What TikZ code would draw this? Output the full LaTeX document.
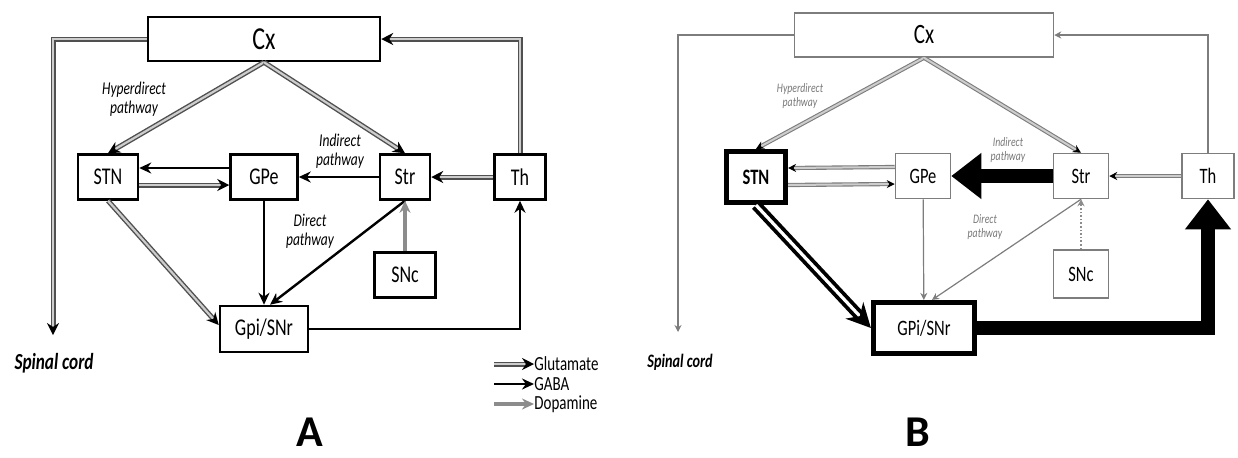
\documentclass[tikz,border=0pt]{standalone}
\usepackage{fontspec}
\setmainfont{Carlito}[FakeStretch=0.75]
\newfontfamily\letterfont{Carlito}
\usetikzlibrary{arrows.meta,positioning,calc}
\definecolor{GluGray}{RGB}{80,80,80}
\definecolor{GluFill}{RGB}{205,205,205}
\definecolor{DopGray}{RGB}{140,140,140}
\definecolor{ThinGray}{RGB}{125,125,125}
\definecolor{LabelGray}{RGB}{120,120,120}
\tikzset{
  box a/.style={
    draw,
    line width=1.25pt,
    inner sep=0pt,
    minimum height=22.5pt,
    fill=white,
    font=\fontsize{12}{12}\selectfont,
  },
  box b/.style={
    box a,
    draw=ThinGray,
    line width=0.75pt,
    font=\fontsize{11}{11}\selectfont,
  },
  box b heavy/.style={
    box b,
    draw=black,
    line width=2.6pt,
  },
  glu/.style={draw=GluGray, double=GluFill, double distance=1.1pt, line width=0.7pt,
    -{Stealth[black,length=6pt,width=6pt]}},
  gaba/.style={draw=black, line width=1.2pt, -{Stealth[length=6pt,width=5.5pt]}},
  dopa/.style={draw=DopGray, line width=1.6pt, -{Stealth[length=6pt,width=5.5pt]}},
  glu b/.style={draw=ThinGray, double=GluFill, double distance=1pt, line width=0.55pt,
    -{Stealth[black,length=4pt,width=4pt]}},
  glu heavy/.style={draw=black, double=white, double distance=1.6pt, line width=1.9pt,
    -{Stealth[black,length=12pt,width=12pt]}},
  gaba heavy/.style={draw=black, line width=7pt, -{Triangle[length=15pt,width=22pt]}},
  thin b/.style={draw=ThinGray, line width=0.6pt, -{Stealth[length=3.5pt,width=3.5pt]}},
  dopa b/.style={draw=DopGray, line width=0.8pt, densely dotted, -{Stealth[length=3.5pt,width=3.5pt]}},
  path label/.style={align=center, font=\itshape\fontsize{9}{9.5}\selectfont},
  path label b/.style={align=center, text=LabelGray, font=\itshape\fontsize{6.5}{7}\selectfont},
  legend text/.style={anchor=west, inner sep=0pt, font=\fontsize{10}{10}\selectfont},
  panel letter/.style={inner sep=0pt, anchor=base, font=\letterfont\bfseries\fontsize{22}{22}\selectfont},
}

\begin{document}
\begin{tikzpicture}[x=0.5pt,y=-0.5pt]
\useasboundingbox (0,0) rectangle (1238,457);

% Panel A: nuclei
\node[box a, minimum width=116pt, minimum height=22pt, font=\fontsize{16}{16}\selectfont] (cxA) at (264,39) {Cx};
\node[box a, minimum width=30pt] (stnA) at (108,177) {STN};
\node[box a, minimum width=33.5pt] (gpeA) at (264,177) {GPe};
\node[box a, minimum width=25pt] (strA) at (405,177) {Str};
\node[box a, minimum width=25.5pt] (thA) at (520,177) {Th};
\node[box a, minimum width=30.5pt] (sncA) at (405,275) {SNc};
\node[box a, minimum width=44pt, minimum height=23pt] (gpiA) at (264,329) {Gpi/SNr};
\coordinate (spinalA) at (53,335);

% Panel A: projections
\draw[glu] (cxA.south) -- (stnA.north);
\draw[glu] (cxA.south) -- (strA.north);
\draw[glu] (cxA) -| (spinalA);
\draw[glu] (thA) |- (cxA);
\draw[glu] (thA) -- (strA);
\draw[gaba] ([yshift=4.5pt]gpeA.west) -- ([yshift=4.5pt]stnA.east);
\draw[glu] ([yshift=-4pt]stnA.east) -- ([yshift=-4pt]gpeA.west);
\draw[gaba] (strA) -- (gpeA);
\draw[glu] (stnA.south) -- ([yshift=2pt]gpiA.west);
\draw[gaba] (gpeA) -- (gpiA);
\draw[gaba] (strA.south) -- ([xshift=3pt]gpiA.north);
\draw[dopa] (sncA) -- (strA);
\draw[gaba] (gpiA) -| (thA);

\node[path label] (hyperA) at (134,99) {Hyperdirect\\pathway};
\node[path label] (indirA) at (340,151) {Indirect\\pathway};
\node[path label] (dirA) at (310,231) {Direct\\pathway};
\node[font=\bfseries\itshape\fontsize{11.5}{11.5}\selectfont] (spinaltxtA) at (54,363) {Spinal cord};

% Legend
\node[legend text] (gluT) at (534,364) {Glutamate};
\node[legend text] (gabaT) at (534,384) {GABA};
\node[legend text] (dopaT) at (534,404) {Dopamine};
\coordinate (gluS) at (494,364);
\coordinate (gabaS) at (494,384);
\coordinate (dopaS) at (494,404);
\draw[glu] (gluS) -- (gluT.west);
\draw[gaba] (gabaS) -- (gabaT.west);
\draw[dopa] (dopaS) -- (dopaT.west);

\node[panel letter] (letA) at (310,446) {A};

% Panel B: nuclei
\node[box b, minimum width=129.5pt, minimum height=22pt, font=\fontsize{14}{14}\selectfont] (cxB) at (924,35) {Cx};
\node[box b heavy, minimum width=29.5pt, minimum height=25.5pt, font=\bfseries\fontsize{11}{11}\selectfont] (stnB) at (756,177) {STN};
\node[box b, minimum width=27.5pt] (gpeB) at (923,176) {GPe};
\node[box b, minimum width=27.5pt] (strB) at (1081,176) {Str};
\node[box b, minimum width=26pt] (thB) at (1208,176) {Th};
\node[box b, minimum width=27.5pt, minimum height=24pt] (sncB) at (1081,274) {SNc};
\node[box b heavy, minimum width=50.5pt, minimum height=25.5pt] (gpiB) at (924,328) {GPi/SNr};
\coordinate (spinalB) at (678,332);

% Panel B: projections
\draw[glu b] (cxB.south) -- (stnB.north);
\draw[glu b] (cxB.south) -- (strB.north);
\draw[thin b] (cxB) -| (spinalB);
\draw[thin b] (thB) |- (cxB);
\draw[glu b] (thB) -- (strB);
\draw[glu b] ([yshift=4.5pt]gpeB.west) -- ([yshift=4.5pt]stnB.east);
\draw[glu b] ([yshift=-4pt]stnB.east) -- ([yshift=-4pt]gpeB.west);
\draw[gaba heavy] (strB) -- (gpeB);
\draw[glu heavy] (stnB.south) -- (gpiB.west);
\draw[thin b] (gpeB) -- (gpiB);
\draw[thin b] (strB.south) -- ([xshift=4pt]gpiB.north);
\draw[dopa b] (sncB) -- (strB);
\draw[gaba heavy] (gpiB) -| (thB);

\node[path label b] (hyperB) at (800,96) {Hyperdirect\\pathway};
\node[path label b] (indirB) at (1008,150) {Indirect\\pathway};
\node[path label b] (dirB) at (985,227) {Direct\\pathway};
\node[font=\bfseries\itshape\fontsize{9.5}{9.5}\selectfont] (spinaltxtB) at (680,362) {Spinal cord};

\node[panel letter] (letB) at (918,446) {B};

\end{tikzpicture}
\end{document}
